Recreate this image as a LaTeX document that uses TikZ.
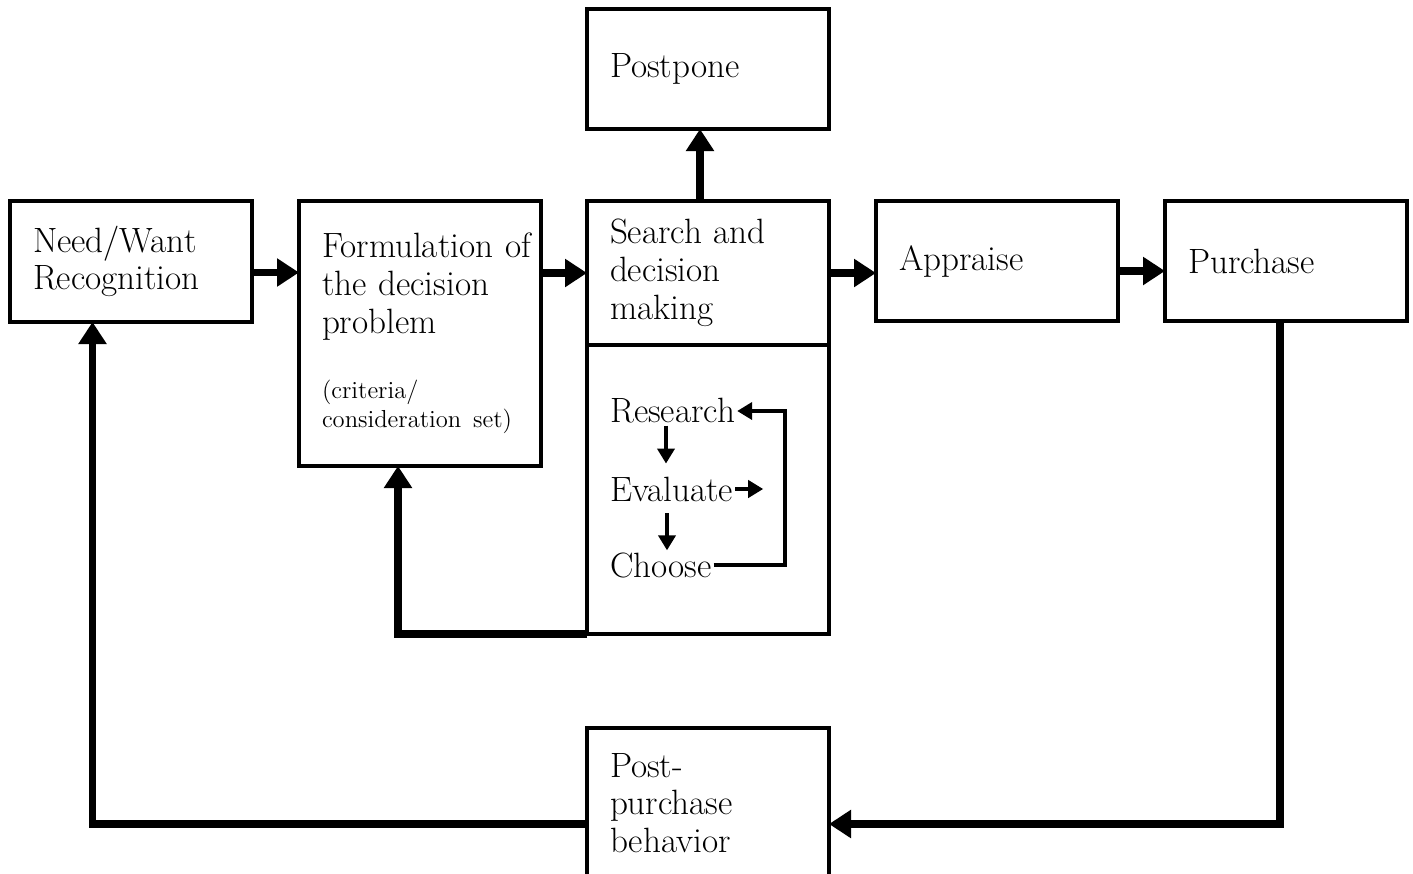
\documentclass[tikz,border=0pt]{standalone}
\usepackage{tikz}
\usetikzlibrary{arrows.meta,positioning}

\begin{document}
\begin{tikzpicture}

      \tikzstyle{stagebox}=[rectangle,draw,line width=2.6pt,
        minimum width=4.84cm,minimum height=2.42cm,
        text width=3.92cm,inner xsep=0.46cm,inner ysep=0.2cm,
        outer sep=0pt,align=left,
        font=\fontsize{20}{21.5}\selectfont]
      \tikzstyle{loopword}=[inner sep=1pt,
        font=\fontsize{20}{21.5}\selectfont]
      \tikzstyle{bigarrow}=[line width=0.15cm,
        -{Triangle[length=0.44cm,width=0.54cm]}]
      \tikzstyle{smallarrow}=[line width=0.08cm,
        -{Triangle[length=0.3cm,width=0.34cm]}]

      \useasboundingbox (0,0) rectangle (28.26,-17.46);

      \node(NEED)[stagebox] at (2.62,-5.23){Need/Want\\Recognition};
      \node(FORMULATE)[stagebox,minimum height=5.3cm,
        right=0.94cm of NEED.north east,anchor=north west]
        {\mbox{Formulation of}\\the decision\\problem\par\vspace{0.72cm}
        \fontsize{14}{16.5}\selectfont(criteria/\\consideration set)\par};
      \node(SEARCH1)[stagebox,minimum height=2.88cm,
        right=0.92cm of FORMULATE.north east,anchor=north west]
        {Search and\\decision\\making};
      \node(SEARCH2)[stagebox,minimum height=5.78cm,
        below=0cm of SEARCH1]{};
      \node(POSTPONE)[stagebox,minimum height=2.4cm,
        above=1.44cm of SEARCH1]{Postpone};
      \node(APPRAISE)[stagebox,minimum height=2.4cm,
        right=0.94cm of SEARCH1.north east,anchor=north west]
        {Appraise};
      \node(PURCHASE)[stagebox,minimum height=2.4cm,
        right=0.94cm of APPRAISE]{Purchase};
      \node(POSTPURCHASE)[stagebox,minimum height=3cm,
        below=1.88cm of SEARCH2]{Post-\\purchase\\behavior};

      % inner loop of the search box
      \node(RESEARCH)[loopword,anchor=west]
        at ([xshift=0.42cm,yshift=-1.32cm]SEARCH2.north west){Research};
      \node(EVALUATE)[loopword,below=1.56cm of RESEARCH.west,
        anchor=west]{Evaluate};
      \node(CHOOSE)[loopword,below=1.52cm of EVALUATE.west,
        anchor=west]{Choose};
      \coordinate(EVALTIP) at ([xshift=0.56cm]EVALUATE.east);
      \coordinate(LOOPTOP) at ([xshift=0.96cm]RESEARCH.east);

      \draw [smallarrow,shorten >=0.22cm]
      ([xshift=1.16cm]RESEARCH.south west)--
      ([xshift=1.16cm]RESEARCH.south west |- EVALUATE.north);
      \draw [smallarrow,shorten <=0.2cm]
      ([xshift=1.18cm]EVALUATE.south west)--
      ([xshift=1.18cm]EVALUATE.south west |- CHOOSE.north);
      \draw [smallarrow]
      (EVALUATE.east)--(EVALTIP);
      \draw [smallarrow]
      (CHOOSE.east)-|(LOOPTOP)--(RESEARCH.east);

      % main flow
      \draw [bigarrow]
      ([yshift=-0.22cm]NEED.east)--([yshift=-0.22cm]NEED.east -| FORMULATE.west);
      \draw [bigarrow]
      (FORMULATE.east |- SEARCH1.west)--(SEARCH1.west);
      \draw [bigarrow]
      (SEARCH1.east)--(SEARCH1.east -| APPRAISE.west);
      \draw [bigarrow]
      ([yshift=-0.2cm]APPRAISE.east)--([yshift=-0.2cm]PURCHASE.west);
      \draw [bigarrow]
      ([xshift=-0.16cm]SEARCH1.north)--([xshift=-0.16cm]POSTPONE.south);

      % feedback paths
      \draw [bigarrow]
      (SEARCH2.south west)-|([xshift=-0.44cm]FORMULATE.south);
      \draw [bigarrow]
      ([xshift=-0.12cm]PURCHASE.south)|-([yshift=-0.42cm]POSTPURCHASE.east);
      \draw [bigarrow]
      ([yshift=-0.42cm]POSTPURCHASE.west)-|([xshift=-0.77cm]NEED.south);

    \end{tikzpicture}
\end{document}
